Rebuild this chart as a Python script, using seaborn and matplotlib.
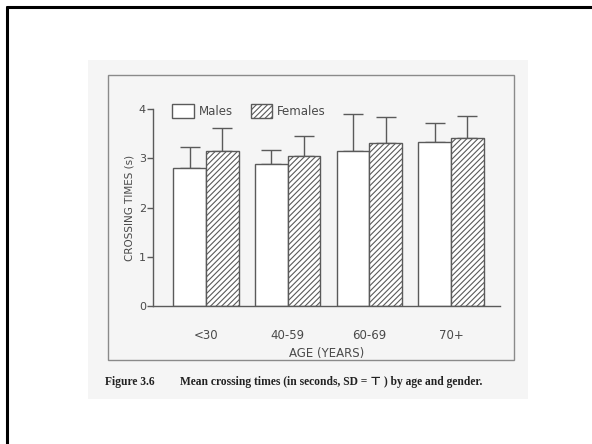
import matplotlib
matplotlib.use("Agg")
import matplotlib.pyplot as plt
from matplotlib.patches import Rectangle, Patch
from matplotlib.lines import Line2D
import seaborn as sns
import pandas as pd
import numpy as np

ages = ["<30", "40-59", "60-69", "70+"]
genders = ["Males", "Females"]
male_mean = [2.81, 2.89, 3.15, 3.33]
male_sd = [0.42, 0.28, 0.74, 0.39]
female_mean = [3.15, 3.04, 3.31, 3.41]
female_sd = [0.46, 0.42, 0.52, 0.44]
yticks = [0, 1, 2, 3, 4]

sns.set_style("white")
plt.rcParams["font.family"] = ["DejaVu Sans"]
plt.rcParams["hatch.color"] = "#6a6a6a"
plt.rcParams["hatch.linewidth"] = 0.8

W, H = 592, 444
fig = plt.figure(figsize=(W / 100, H / 100), dpi=100)

def fx(px):
    return px / W

def fy(py):
    return 1 - py / H

# slide border (left and top)
fig.add_artist(Line2D([fx(7), fx(7)], [fy(7), 0], color="black", lw=2.2))
fig.add_artist(Line2D([fx(7), 1], [fy(7), fy(7)], color="black", lw=2.2))

# scanned page background
fig.add_artist(Rectangle((fx(88), fy(399)), fx(528) - fx(88), fy(60) - fy(399),
                         facecolor="#f5f5f5", edgecolor="none", zorder=0))
# figure frame on the page
fig.add_artist(Rectangle((fx(108), fy(360)), fx(514) - fx(108), fy(75) - fy(360),
                         facecolor="none", edgecolor="#8a8a8a", lw=1.0, zorder=1))

ax = fig.add_axes([fx(153), fy(306), fx(500) - fx(153), fy(109) - fy(306)])
ax.set_facecolor("none")

df = pd.DataFrame({
    "age": ages * 2,
    "gender": ["Males"] * len(ages) + ["Females"] * len(ages),
    "time": male_mean + female_mean,
})
sd = male_sd + female_sd

sns.barplot(data=df, x="age", y="time", hue="gender", order=ages, hue_order=genders,
            palette=["white", "white"], edgecolor="#5a5a5a", linewidth=1.0,
            errorbar=None, legend=False, width=0.8, ax=ax, zorder=2)

bars = [p for p in ax.patches]
for i, p in enumerate(bars):
    if i >= len(ages):
        p.set_hatch("//////")
    cx = p.get_x() + p.get_width() / 2
    top = p.get_height()
    ax.errorbar([cx], [top], yerr=[[0], [sd[i]]], fmt="none", ecolor="#5a5a5a",
                elinewidth=1.0, capsize=7.2, capthick=1.0, zorder=1)

ax.set_xlim(-0.65, 3.6)
ax.set_ylim(0, 4)
ax.set_yticks(yticks)
ax.set_yticklabels([str(t) for t in yticks])
sns.despine(ax=ax, top=True, right=True)
for s in ["left", "bottom"]:
    ax.spines[s].set_color("#5a5a5a")
    ax.spines[s].set_linewidth(1.0)
ax.tick_params(axis="y", left=True, length=4, width=1.0, color="#5a5a5a",
               labelsize=8, labelcolor="#4a4a4a", pad=1)
ax.tick_params(axis="x", bottom=False, labelsize=8.5, labelcolor="#4a4a4a", pad=13)
ax.set_xlabel("AGE (YEARS)", fontsize=8.5, color="#4a4a4a", labelpad=4)
ax.set_ylabel("CROSSING TIMES (s)", fontsize=7.5, color="#4a4a4a", labelpad=3)

handles = [Patch(facecolor="white", edgecolor="#5a5a5a", lw=1.0, label="Males"),
           Patch(facecolor="white", edgecolor="#5a5a5a", lw=1.0, hatch="//////", label="Females")]
fig.legend(handles=handles, loc="upper left", bbox_to_anchor=(fx(164), fy(96)),
           ncol=2, frameon=False, fontsize=8.5, handlelength=1.8, handleheight=1.4,
           handletextpad=0.45, columnspacing=1.5, labelcolor="#4a4a4a", borderpad=0.2)

fig.text(fx(105), fy(382), "Figure 3.6", family=["Liberation Serif", "DejaVu Serif"],
         fontsize=8.3, color="#222222", va="center", ha="left", weight="bold")
fig.text(fx(180), fy(382), "Mean crossing times (in seconds, SD = \u22a4 ) by age and gender.",
         family=["Liberation Serif", "DejaVu Serif"], fontsize=8.3, color="#222222",
         va="center", ha="left", weight="bold")

fig.savefig("out.png", dpi=100)
